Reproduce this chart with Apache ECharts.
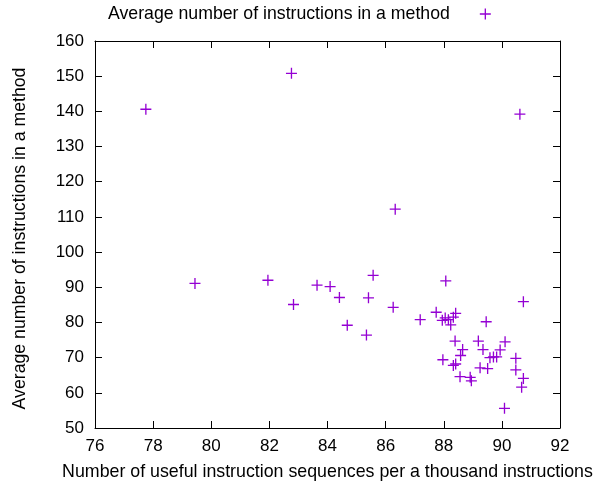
<!DOCTYPE html>
<html>
<head>
<meta charset="utf-8">
<script src="https://cdn.jsdelivr.net/npm/echarts@6/dist/echarts.min.js"></script>
<style>
html,body{margin:0;padding:0;background:#fff;}
#chart{width:608px;height:487px;}
</style>
</head>
<body>
<div id="chart"></div>
<script>
// Data (x: useful sequences per 1000 instructions, y: avg instructions per method)
const seriesName = 'Average number of instructions in a method';
const xTitle = 'Number of useful instruction sequences per a thousand instructions';
const yTitle = 'Average number of instructions in a method';
const xValues = [77.75, 82.76, 90.62, 86.33, 79.44, 81.95, 82.83, 83.64, 84.09, 84.41,
  84.68, 85.57, 85.41, 85.34, 86.26, 87.19, 88.07, 87.74, 87.95, 88.05,
  88.16, 88.24, 88.33, 88.41, 89.46, 90.74, 88.39, 89.19, 90.11, 88.65,
  89.35, 89.94, 88.58, 89.59, 89.71, 89.82, 87.97, 90.48, 88.33, 88.41,
  89.25, 89.51, 90.48, 88.56, 88.91, 88.95, 90.74, 90.68, 90.09];
const yValues = [140.6, 150.8, 139.2, 112.2, 91.1, 92.0, 85.1, 90.6, 90.2, 87.1,
  79.2, 93.4, 87.0, 76.4, 84.3, 80.8, 91.8, 82.9, 80.6, 81.3,
  80.8, 79.3, 81.5, 82.6, 80.2, 85.9, 74.7, 74.7, 74.5, 72.3,
  72.3, 72.2, 70.6, 70.0, 70.2, 70.2, 69.4, 69.8, 67.8, 68.2,
  67.1, 66.9, 66.5, 64.6, 64.4, 63.4, 64.1, 61.6, 55.6];
const xMin = 76, xMax = 92, xStep = 2;
const yMin = 50, yMax = 160, yStep = 10;

const points = xValues.map((x, i) => [x, yValues[i]]);
const color = '#9400d3';
const font = "'Liberation Sans', Arial, sans-serif";
const cross = 'path://M4.4,0H5.6V4.4H10V5.6H5.6V10H4.4V5.6H0V4.4H4.4Z';

const baseAxis = {
  axisLine: {show: true, onZero: false, lineStyle: {color: '#000', width: 1}},
  axisTick: {show: true, inside: true, length: 7, lineStyle: {color: '#000', width: 1}},
  splitLine: {show: false}
};

const chart = echarts.init(document.getElementById('chart'), null, {renderer: 'canvas'});
chart.setOption({
  animation: false,
  backgroundColor: '#fff',
  textStyle: {fontFamily: font},
  grid: {left: 95, right: 48, top: 41, bottom: 59, containLabel: false},
  legend: {
    data: [seriesName],
    left: 103, top: 0, padding: 5,
    align: 'right',
    itemWidth: 11, itemHeight: 11,
    icon: cross,
    textStyle: {fontSize: 17.7, color: '#000', fontFamily: font, padding: [0, 25, 0, 0]}
  },
  xAxis: [
    Object.assign({}, baseAxis, {
      type: 'value', position: 'bottom', min: xMin, max: xMax, interval: xStep,
      name: xTitle, nameLocation: 'middle', nameGap: 35,
      nameTextStyle: {fontSize: 17.8, color: '#000', fontFamily: font},
      axisLabel: {fontSize: 17, color: '#000', margin: 10, fontFamily: font}
    }),
    Object.assign({}, baseAxis, {
      type: 'value', position: 'top', min: xMin, max: xMax, interval: xStep,
      axisLabel: {show: false}
    })
  ],
  yAxis: [
    Object.assign({}, baseAxis, {
      type: 'value', position: 'left', min: yMin, max: yMax, interval: yStep,
      name: yTitle, nameLocation: 'middle', nameGap: 66,
      nameTextStyle: {fontSize: 17.7, color: '#000', fontFamily: font, padding: [0, 8, 0, 0]},
      axisLabel: {fontSize: 17, color: '#000', margin: 11, fontFamily: font}
    }),
    Object.assign({}, baseAxis, {
      type: 'value', position: 'right', min: yMin, max: yMax, interval: yStep,
      axisLabel: {show: false}
    })
  ],
  series: [{
    name: seriesName,
    type: 'scatter',
    xAxisIndex: 0, yAxisIndex: 0,
    data: points,
    symbol: cross,
    symbolSize: 11,
    itemStyle: {color: color, opacity: 1},
    emphasis: {disabled: true}
  }]
});
</script>
</body>
</html>
